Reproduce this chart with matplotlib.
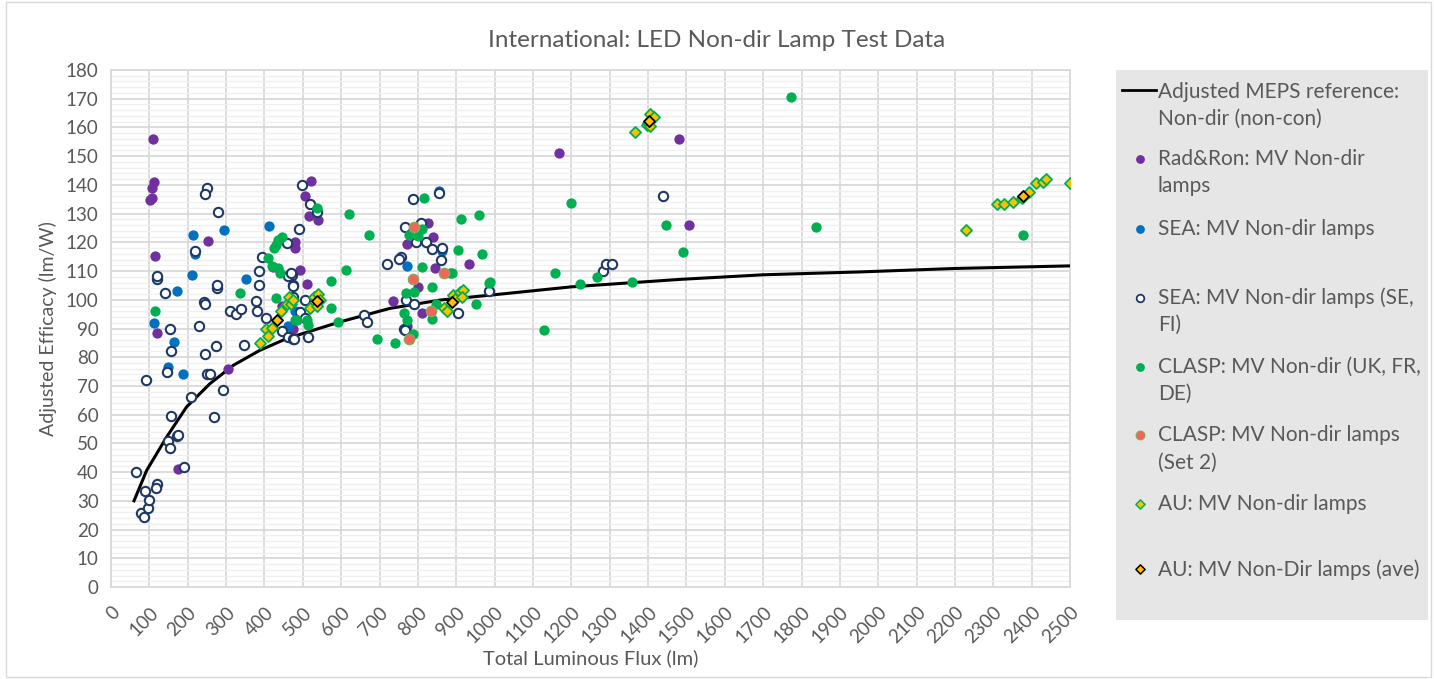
import matplotlib
matplotlib.use("Agg")
import matplotlib.pyplot as plt
from matplotlib.patches import Rectangle
from matplotlib.ticker import MultipleLocator

plt.rcParams["font.family"] = ["Lato", "DejaVu Sans"]

# Adjusted MEPS reference curve
meps_x = [60, 93, 145, 197, 258, 319, 388, 458, 597, 727, 858, 988, 1200, 1483, 1700, 1953, 2200, 2500]
meps_y = [30, 40.6, 52.2, 62.7, 70.8, 77.2, 82.4, 86.5, 92.3, 97, 99.9, 101.6, 104.5, 107.1, 108.7, 109.7, 110.9, 111.8]

# Rad&Ron: MV Non-dir lamps
rr_x = [110, 113, 108, 102, 106, 115, 121, 175, 304, 252, 480, 480, 521, 506, 516, 540, 493, 512,
        423, 447, 475, 772, 827, 840, 845, 933, 801, 736, 812, 771, 1168, 1481, 1508]
rr_y = [156, 141, 139, 134.7, 135.3, 115.2, 88.3, 41.2, 75.8, 120.4, 120.2, 118, 141.3, 136.2, 129.2, 127.7, 110.3, 105.4,
        111.5, 98, 90, 119.3, 126.8, 121.9, 110.9, 112.3, 104.3, 99.5, 95.4, 90.8, 151, 156, 126.2]

# SEA: MV Non-dir lamps
sea_x = [219, 210, 352, 171, 112, 165, 148, 189, 294, 215, 412, 462, 772, 856, 864, 506, 480]
sea_y = [116, 108.6, 107.4, 103.1, 92, 85.3, 76.6, 74, 124.3, 122.5, 125.6, 90.8, 111.8, 138, 117, 100, 96]

# SEA: MV Non-dir lamps (SE, FI)
seo_x = [65, 78, 86, 96, 89, 100, 119, 117, 149, 155, 172, 175, 191, 156, 268, 209, 291, 91, 145, 250,
         258, 157, 245, 275, 347, 155, 229, 310, 325, 338, 378, 380, 142, 242, 244, 277, 277, 386, 387, 119,
         121, 219, 249, 246, 279, 497, 489, 460, 393, 519, 538, 786, 855, 766, 808, 796, 821, 836, 862, 755,
         751, 860, 719, 471, 474, 462, 469, 474, 475, 404, 445, 462, 474, 506, 493, 506, 477, 514, 660, 667,
         769, 791, 764, 766, 904, 986, 1440, 1282, 1290, 1307]
seo_y = [40, 25.6, 24.3, 27.4, 33.4, 30.4, 36, 34.6, 50.7, 48.5, 52.5, 53, 41.8, 59.4, 59.2, 66.2, 68.5, 72, 74.7, 74.1,
         74.1, 82.2, 81, 83.8, 84.2, 90, 90.9, 96.1, 95, 96.7, 99.6, 96.1, 102.4, 99.2, 98.4, 104, 105, 105, 110, 107.4,
         108.4, 117, 138.8, 136.8, 130.6, 140, 124.8, 119.6, 115, 133.5, 130.6, 135.2, 137.2, 125.2, 126.6, 120, 120.2, 117.6, 117.9, 115,
         114.1, 114, 112.4, 108.6, 105, 108.2, 109.4, 104.7, 101, 93.8, 89.1, 87.1, 86.2, 99.9, 95.8, 93.5, 86.5, 86.9, 94.6, 92.3,
         99.9, 98.7, 90, 89.4, 95.4, 103.1, 136.2, 110, 112.4, 112.4]

# CLASP: MV Non-dir (UK, FR, DE)
cl_x = [115, 336, 430, 445, 436, 430, 424, 410, 419, 441, 436, 536, 620, 673, 817, 811, 776, 799, 904, 913,
        959, 967, 612, 574, 810, 884, 888, 836, 769, 790, 847, 836, 763, 772, 786, 693, 740, 591, 574, 951,
        985, 480, 510, 514, 484, 1199, 1446, 988, 1158, 1223, 1266, 1359, 1129, 1772, 1492, 1838, 2377]
cl_y = [96.1, 102.2, 100.5, 121.7, 120.8, 119, 117.9, 114.4, 111.7, 109.2, 111, 131.8, 129.8, 122.5, 135.6, 124.6, 122.5, 122.2, 117.5, 128,
        129.5, 116.1, 110.3, 106.5, 111.5, 109.2, 109.4, 104.3, 102.5, 102.8, 98.7, 93.2, 95.4, 92.9, 88, 86.2, 84.8, 92.3, 97.3, 98.5,
        106, 92.9, 92.9, 91.2, 92.9, 133.8, 126, 106.2, 109.2, 105.4, 108, 106.2, 89.4, 170.5, 116.6, 125.4, 122.5]

# CLASP: MV Non-dir lamps (Set 2)
cl2_x = [790, 868, 788, 833, 777]
cl2_y = [125.2, 109.4, 107.1, 96.1, 86.5]

# AU: MV Non-dir lamps
au_x = [389, 404, 410, 420, 443, 458, 464, 468, 475, 520, 530, 540, 545, 536, 868, 875, 892, 897, 910, 918,
        914, 1365, 1396, 1401, 1405, 1405, 1416, 2230, 2309, 2328, 2350, 2376, 2392, 2412, 2430, 2437, 2501]
au_y = [84.8, 90, 87.3, 90.3, 96, 98.5, 101, 98.7, 100, 97, 101, 102, 100, 98, 97, 96, 101.6, 100.4, 102.8, 103.3,
        101, 158.5, 160.8, 161.4, 160.5, 164.6, 163.7, 124.2, 133.3, 133.5, 133.9, 135.3, 137.6, 140.6, 141.1, 142, 140.6]

# AU: MV Non-Dir lamps (ave)
aua_x = [432, 536, 890, 1403, 2378]
aua_y = [93.1, 99.6, 99.3, 162.2, 136.2]

labels = [
    "Adjusted MEPS reference:\nNon-dir (non-con)",
    "Rad&Ron: MV Non-dir\nlamps",
    "SEA: MV Non-dir lamps",
    "SEA: MV Non-dir lamps (SE,\nFI)",
    "CLASP: MV Non-dir (UK, FR,\nDE)",
    "CLASP: MV Non-dir lamps\n(Set 2)",
    "AU: MV Non-dir lamps",
    "AU: MV Non-Dir lamps (ave)",
]

PURPLE = "#7030A0"
BLUE = "#0070C0"
NAVY = "#1F3864"
GREEN = "#00B050"
CORAL = "#F2665A"
GOLD = "#FFC000"
TXT = "#595959"
GRID = "#D9D9D9"

fig = plt.figure(figsize=(14.34, 6.79), dpi=100)
ax = fig.add_axes([0.0774, 0.1355, 0.6688, 0.7614])

ax.plot(meps_x, meps_y, color="black", lw=2.2, zorder=3)
ms = 55
ax.scatter(rr_x, rr_y, s=ms, color=PURPLE, zorder=4, linewidths=0)
ax.scatter(sea_x, sea_y, s=ms, color=BLUE, zorder=4, linewidths=0)
ax.scatter(seo_x, seo_y, s=45, facecolor="white", edgecolor=NAVY, linewidths=1.5, zorder=5)
ax.scatter(cl_x, cl_y, s=ms, color=GREEN, zorder=6, linewidths=0)
ax.scatter(cl2_x, cl2_y, s=ms, facecolor=CORAL, edgecolor="#8AA65A", linewidths=1.0, zorder=7)
ax.scatter(au_x, au_y, s=32, marker="D", facecolor=GOLD, edgecolor=GREEN, linewidths=1.3, zorder=8)
ax.scatter(aua_x, aua_y, s=32, marker="D", facecolor=GOLD, edgecolor="black", linewidths=1.3, zorder=9)

ax.set_xlim(0, 2500)
ax.set_ylim(0, 180)
ax.xaxis.set_major_locator(MultipleLocator(100))
ax.yaxis.set_major_locator(MultipleLocator(10))
ax.yaxis.set_minor_locator(MultipleLocator(2))
ax.grid(True, which="major", color=GRID, lw=1.3, zorder=0)
ax.grid(True, which="minor", axis="y", color="#EFEFEF", lw=0.9, zorder=0)
ax.set_axisbelow(True)
for s in ax.spines.values():
    s.set_color(GRID)
    s.set_linewidth(1.3)
ax.tick_params(which="both", length=0, colors=TXT, labelsize=13.5)
ax.tick_params(axis="y", pad=9)
plt.setp(ax.get_xticklabels(), rotation=45, ha="right", rotation_mode="anchor")
ax.tick_params(axis="x", pad=12)

fig.text(0.5, 0.941, "International: LED Non-dir Lamp Test Data", fontsize=17.5, color=TXT,
         ha="center", va="center")
ax.set_xlabel("Total Luminous Flux (lm)", fontsize=14.5, color=TXT, labelpad=2)
ax.set_ylabel("Adjusted Efficacy (lm/W)", fontsize=14, color=TXT, labelpad=6)

# legend panel, drawn like the Excel one
lg = fig.add_axes([0.7782, 0.0869, 0.2176, 0.8107])
lg.set_xlim(1116, 1428)
lg.set_ylim(622, 68)
lg.axis("off")
lg.add_patch(Rectangle((1116, 68), 312, 554, facecolor="#E6E6E6", edgecolor="none"))
rows = [104, 172, 228, 311, 381, 450, 505, 571]
lg.plot([1122, 1156], [89, 89], color="black", lw=2)
lg.scatter([1140], [158], s=40, color=PURPLE, linewidths=0)
lg.scatter([1140], [228], s=40, color=BLUE, linewidths=0)
lg.scatter([1140], [298], s=30, facecolor="white", edgecolor=NAVY, linewidths=1.3)
lg.scatter([1140], [367], s=40, color=GREEN, linewidths=0)
lg.scatter([1140], [436], s=40, facecolor=CORAL, edgecolor="#8AA65A", linewidths=0.8)
lg.scatter([1140], [505], s=22, marker="D", facecolor=GOLD, edgecolor=GREEN, linewidths=1.1)
lg.scatter([1140], [571], s=22, marker="D", facecolor=GOLD, edgecolor="black", linewidths=1.1)
for lab, y in zip(labels, rows):
    lg.text(1158, y, lab, fontsize=15, color=TXT, va="center", ha="left", linespacing=1.45)

# outer chart border
fig.add_artist(Rectangle((0.004, 0.003), 0.994, 0.994, transform=fig.transFigure,
                         fill=False, edgecolor=GRID, lw=1.0))

fig.savefig("out.png", dpi=100)
